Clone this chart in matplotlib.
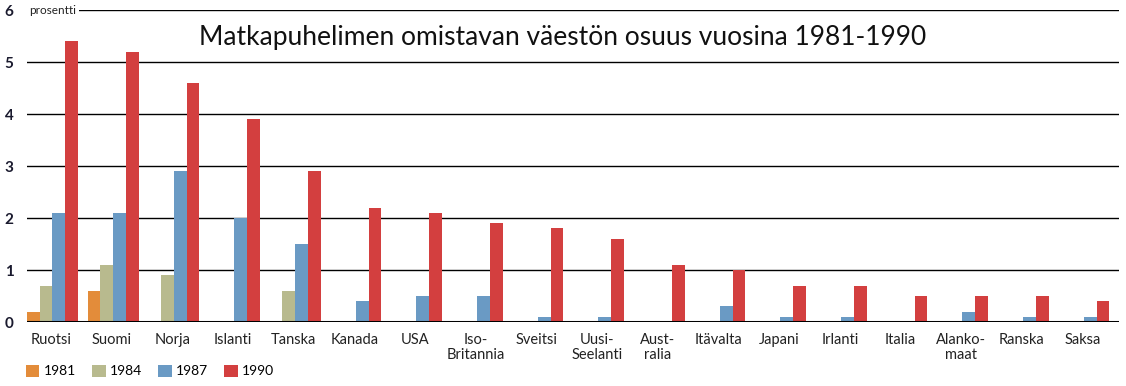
import matplotlib
matplotlib.use("Agg")
import matplotlib.pyplot as plt
import numpy as np
from matplotlib.patches import Patch

countries = ["Ruotsi", "Suomi", "Norja", "Islanti", "Tanska", "Kanada", "USA",
             "Iso-\nBritannia", "Sveitsi", "Uusi-\nSeelanti", "Aust-\nralia", "Itävalta",
             "Japani", "Irlanti", "Italia", "Alanko-\nmaat", "Ranska", "Saksa"]
years = ["1981", "1984", "1987", "1990"]
v1981 = [0.2, 0.6, 0, 0, 0, 0, 0, 0, 0, 0, 0, 0, 0, 0, 0, 0, 0, 0]
v1984 = [0.7, 1.1, 0.9, 0, 0.6, 0, 0, 0, 0, 0, 0, 0, 0, 0, 0, 0, 0, 0]
v1987 = [2.1, 2.1, 2.9, 2.0, 1.5, 0.4, 0.5, 0.5, 0.1, 0.1, 0, 0.3, 0.1, 0.1, 0, 0.2, 0.1, 0.1]
v1990 = [5.4, 5.2, 4.6, 3.9, 2.9, 2.2, 2.1, 1.9, 1.8, 1.6, 1.1, 1.0, 0.7, 0.7, 0.5, 0.5, 0.5, 0.4]
colors = ["#E38C3A", "#B8BA8E", "#6A9AC4", "#D33F3F"]
yticks = [0, 1, 2, 3, 4, 5, 6]

plt.rcParams['font.family'] = ['Lato', 'DejaVu Sans']

fig = plt.figure(figsize=(11.26, 3.86), dpi=100)
ax = fig.add_axes([27/1126, 1-322/386, 1092/1126, 312/386])

n = len(countries)
x = np.arange(n)
w = 0.21
series = [v1981, v1984, v1987, v1990]
for i, (vals, c) in enumerate(zip(series, colors)):
    ax.bar(x - 0.5 + (i + 0.5) * w, vals, width=w, color=c, zorder=3, align='center')

ax.set_xlim(-0.5, n - 0.5)
ax.set_ylim(0, 6)
ax.set_yticks(yticks)
ax.set_yticklabels([str(t) for t in yticks], fontsize=11, color="#1a1a2e", fontweight='bold')
ax.tick_params(axis='y', length=0, pad=16)
for lbl in ax.get_yticklabels():
    lbl.set_horizontalalignment('left')
ax.tick_params(axis='x', length=0, pad=8)
ax.set_xticks(x - 0.5 + 2 * w - 0.02)
ax.set_xticklabels(countries, fontsize=10.5, color="#222222", linespacing=1.05, va='top')

for y in yticks[1:]:
    ax.axhline(y, color='black', lw=1.0, zorder=1)
ax.axhline(0, color='black', lw=2.2, zorder=4)
for s in ax.spines.values():
    s.set_visible(False)

ax.text(-0.47, 6, "prosentti", fontsize=8.5, va='center', ha='left', color="#222222",
        bbox=dict(facecolor='white', edgecolor='none', pad=2.5), zorder=5)

fig.text(563/1126, 1-37/386, "Matkapuhelimen omistavan väestön osuus vuosina 1981-1990",
         fontsize=19, ha='center', va='center', color="#111111")

handles = [Patch(facecolor=c, edgecolor='none') for c in colors]
fig.legend(handles, years, loc='center left', bbox_to_anchor=(20/1126, 1-371/386), ncol=4,
           frameon=False, fontsize=10, handlelength=1.0, handleheight=1.0,
           handletextpad=0.3, columnspacing=1.15, borderaxespad=0)

fig.savefig("out.png", dpi=100)
